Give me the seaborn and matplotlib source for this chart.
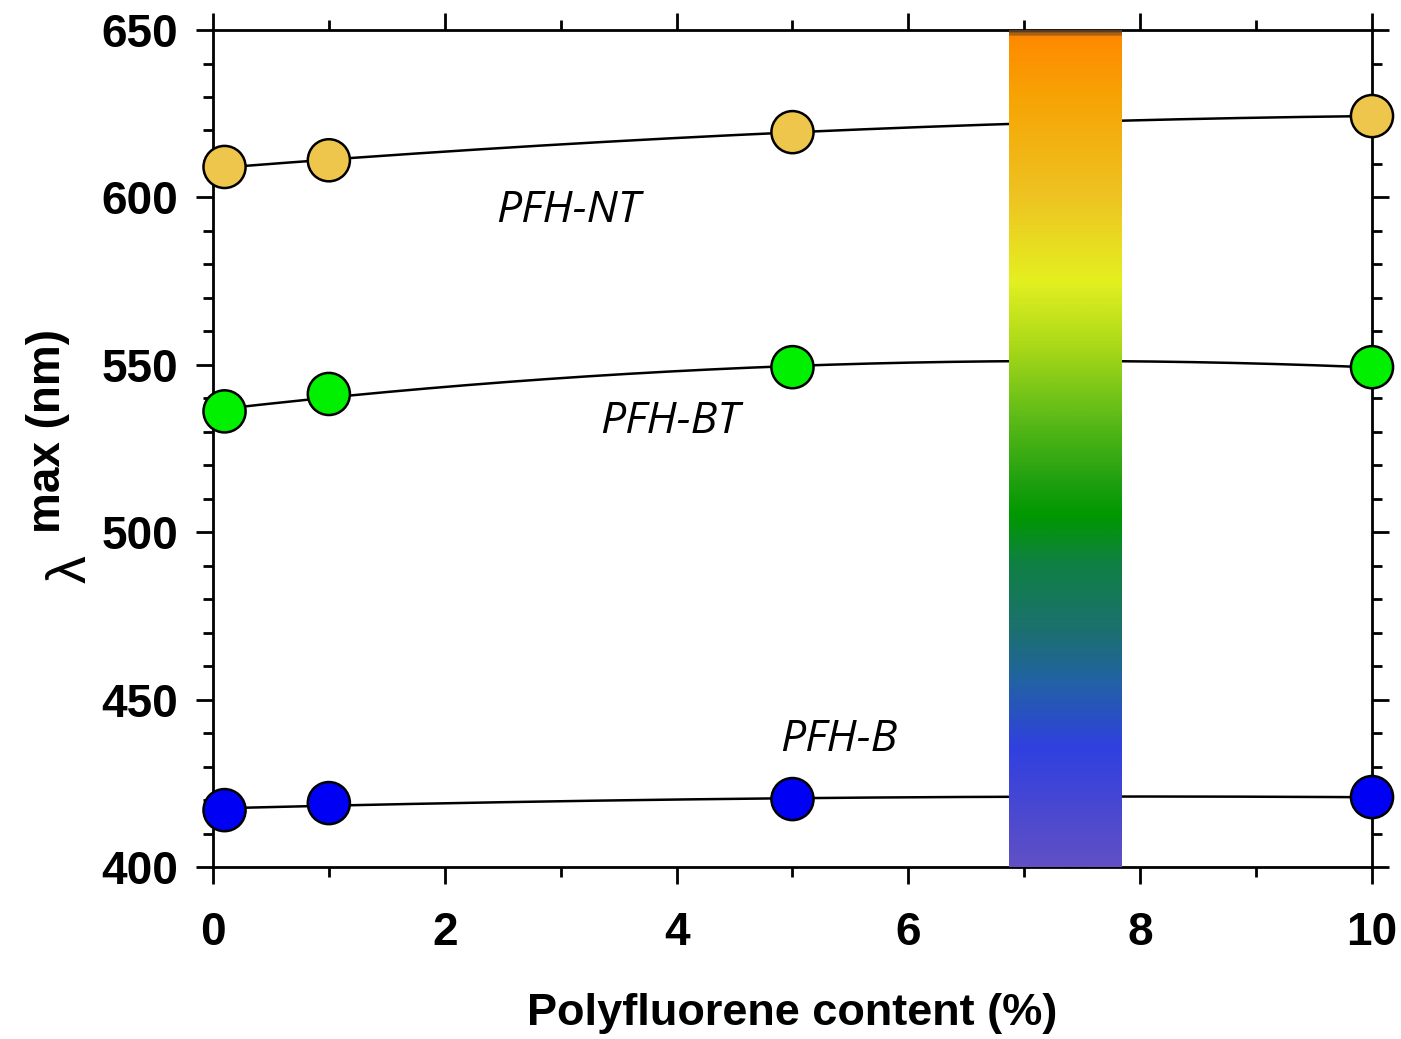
import matplotlib
matplotlib.use('Agg')
import matplotlib.pyplot as plt
import seaborn as sns
import numpy as np
import pandas as pd
from matplotlib.colors import LinearSegmentedColormap
from matplotlib.ticker import MultipleLocator

# data
content = [0.1, 1, 5, 10]
pfh_nt = [609.1, 611.1, 619.5, 624.3]
pfh_bt = [536.1, 541.3, 549.3, 549.3]
pfh_b = [417.0, 419.1, 420.3, 420.9]
series_names = ["PFH-NT", "PFH-BT", "PFH-B"]
series_colors = ["#EFC64C", "#00F000", "#0000F5"]

# spectrum bar (wavelength nm -> colour)
bar_x = [6.87, 7.84]
spec_nm = [400, 435, 455, 470, 490, 505, 515, 535, 555, 575, 600, 630, 648, 650]
spec_col = ["#6050C4", "#3040E0", "#2262A4", "#1C7070", "#108044", "#009800",
            "#20A010", "#60BC18", "#A8D818", "#E4F020", "#EEC422", "#F6A404",
            "#FF8A00", "#5a3a20"]

df = pd.DataFrame({
    "x": content * 3,
    "y": pfh_nt + pfh_bt + pfh_b,
    "series": [n for n in series_names for _ in content],
})

sns.set_style("ticks")
plt.rcParams['font.family'] = ['Liberation Sans', 'DejaVu Sans']
plt.rcParams['text.color'] = 'black'
plt.rcParams['xtick.color'] = 'black'
plt.rcParams['ytick.color'] = 'black'
plt.rcParams['axes.labelcolor'] = 'black'

fig = plt.figure(figsize=(14.01, 10.39), dpi=100)
ax = fig.add_axes([0.152, 0.1655, 0.8273, 0.8056])

# fitted smooth curves
xs = np.linspace(content[0], content[-1], 200)
for vals in [pfh_nt, pfh_bt, pfh_b]:
    coef = np.polyfit(content, vals, 2)
    sns.lineplot(x=xs, y=np.polyval(coef, xs), color="black", lw=1.8, ax=ax, zorder=2)

# spectrum bar
pos = [(v - spec_nm[0]) / (spec_nm[-1] - spec_nm[0]) for v in spec_nm]
cmap = LinearSegmentedColormap.from_list("spec", list(zip(pos, spec_col)))
grad = np.linspace(0, 1, 500).reshape(-1, 1)
ax.imshow(grad, cmap=cmap, origin="lower", aspect="auto",
          extent=[bar_x[0], bar_x[1], spec_nm[0], spec_nm[-1]], zorder=3)

sns.scatterplot(data=df, x="x", y="y", hue="series", palette=series_colors,
                s=920, edgecolor="black", linewidth=1.8, legend=False, ax=ax,
                zorder=4, clip_on=False)

lab_font = dict(fontsize=32, style="italic", family=["Open Sans", "DejaVu Sans"])
ax.text(2.44, 596, "PFH-NT", va="center", ha="left", **lab_font)
ax.text(3.34, 533, "PFH-BT", va="center", ha="left", **lab_font)
ax.text(4.89, 438, "PFH-B", va="center", ha="left", **lab_font)

ax.set_xlim(0, 10)
ax.set_ylim(400, 650)
ax.xaxis.set_major_locator(MultipleLocator(2))
ax.xaxis.set_minor_locator(MultipleLocator(1))
ax.yaxis.set_major_locator(MultipleLocator(50))
ax.yaxis.set_minor_locator(MultipleLocator(10))
ax.tick_params(which="both", direction="out", top=True, right=True,
               width=2, color="black")
ax.tick_params(which="major", length=12, labelsize=33, pad=20)
ax.tick_params(which="minor", length=7)
ax.tick_params(axis="y", which="major", pad=13)
for lab in ax.get_xticklabels() + ax.get_yticklabels():
    lab.set_fontweight("bold")
for sp in ax.spines.values():
    sp.set_linewidth(2)
    sp.set_visible(True)
    sp.set_color("black")

ax.set_xlabel("Polyfluorene content (%)", fontsize=32.5, fontweight="bold", labelpad=27)
ax.set_ylabel("")
fig.text(0.034, 0.585, "max (nm)", rotation=90, ha="center", va="center",
         fontsize=33, fontweight="bold")
fig.text(0.051, 0.452, "λ", rotation=90, ha="center", va="center", fontsize=40)

fig.savefig("out.png", dpi=100)
